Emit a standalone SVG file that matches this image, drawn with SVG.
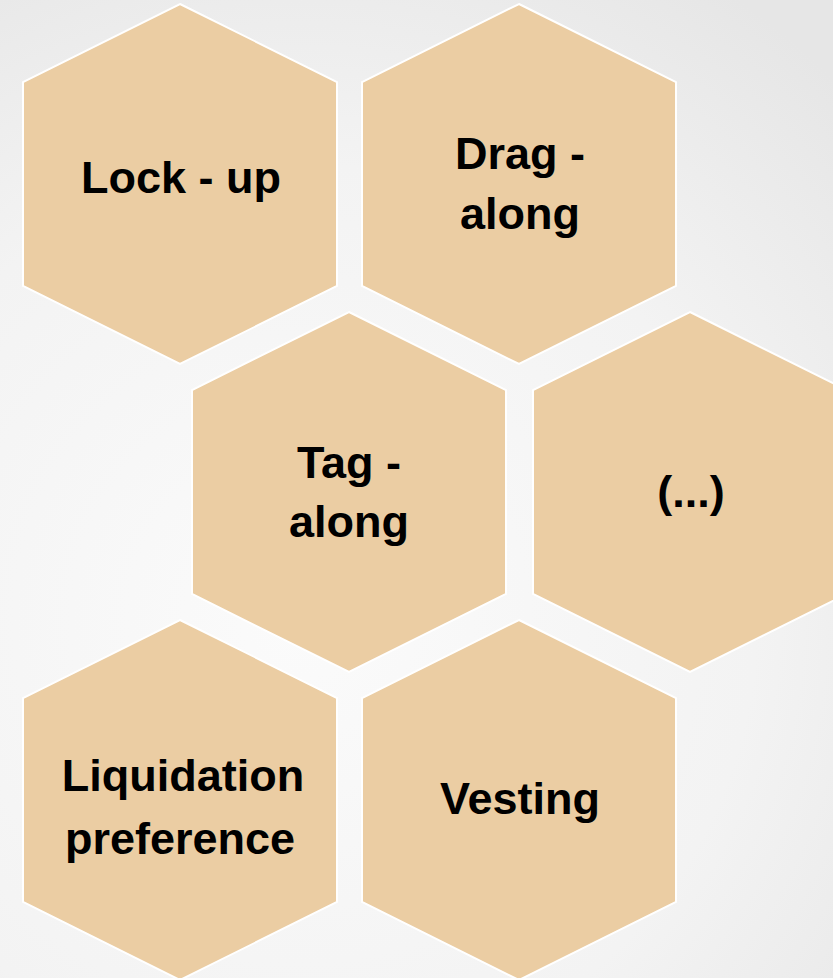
<svg xmlns="http://www.w3.org/2000/svg" width="833" height="978" viewBox="0 0 833 978">
<defs>
<radialGradient id="bg" cx="300" cy="620" r="760" gradientUnits="userSpaceOnUse">
<stop offset="0" stop-color="#fbfbfb"/>
<stop offset="0.6" stop-color="#f3f3f3"/>
<stop offset="1" stop-color="#e6e6e6"/>
</radialGradient>
<polygon id="hex" points="0,-180 157,-102 157,102 0,180 -157,102 -157,-102"/>
</defs>
<style>
.hx{fill:#EBCDA3;stroke:#ffffff;stroke-width:2}
.t{font-family:"Liberation Sans",Arial,sans-serif;font-weight:bold;font-size:45px;fill:#000000;text-anchor:middle}
</style>
<rect width="833" height="978" fill="url(#bg)"/>
<g id="connectors"/>
<g id="lockup">
<use href="#hex" class="hx" x="180" y="184"/>
<text class="t" x="181" y="193">Lock - up</text>
</g>
<g id="dragalong">
<use href="#hex" class="hx" x="519" y="184"/>
<text class="t" x="520" y="169">Drag -</text>
<text class="t" x="520" y="229">along</text>
</g>
<g id="tagalong">
<use href="#hex" class="hx" x="349" y="492"/>
<text class="t" x="349" y="478">Tag -</text>
<text class="t" x="349" y="537">along</text>
</g>
<g id="etc">
<use href="#hex" class="hx" x="690" y="492"/>
<text class="t" x="691" y="507">(...)</text>
</g>
<g id="liquidation">
<use href="#hex" class="hx" x="180" y="800"/>
<text class="t" x="183" y="791">Liquidation</text>
<text class="t" x="180" y="854">preference</text>
</g>
<g id="vesting">
<use href="#hex" class="hx" x="519" y="800"/>
<text class="t" x="520" y="814">Vesting</text>
</g>
</svg>
